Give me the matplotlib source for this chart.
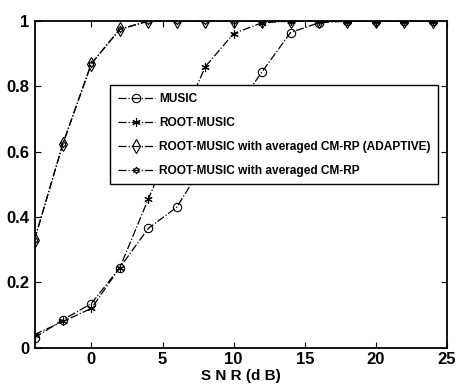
import matplotlib
matplotlib.use('Agg')
import matplotlib.pyplot as plt

snr = [-4, -2, 0, 2, 4, 6, 8, 10, 12, 14, 16, 18, 20, 22, 24]
music = [0.03, 0.085, 0.135, 0.245, 0.365, 0.43, 0.57, 0.72, 0.845, 0.965, 0.995, 1, 1, 1, 1]
root_music = [0.04, 0.08, 0.12, 0.245, 0.455, 0.66, 0.86, 0.962, 0.995, 1, 1, 1, 1, 1, 1]
rp_adaptive = [0.33, 0.625, 0.87, 0.975, 1, 1, 1, 1, 1, 1, 1, 1, 1, 1, 1]
rp_avg = [0.33, 0.625, 0.87, 0.975, 1, 1, 1, 1, 1, 1, 1, 1, 1, 1, 1]

labels = ['MUSIC', 'ROOT-MUSIC',
          'ROOT-MUSIC with averaged CM-RP (ADAPTIVE)',
          'ROOT-MUSIC with averaged CM-RP']

plt.rcParams['font.family'] = ['Liberation Sans', 'DejaVu Sans']
plt.rcParams['font.weight'] = 'bold'

fig = plt.figure(figsize=(4.57, 3.91), dpi=100)
ax = fig.add_axes([0.0755, 0.111, 0.9026, 0.835])

lw = 0.9
ax.plot(snr, music, '-.', color='k', lw=lw, marker='o', ms=6,
        mfc='none', mec='k', mew=0.8, label=labels[0])
ax.plot(snr, root_music, '-.', color='k', lw=lw, marker=(6, 2, 0), ms=6,
        mec='k', mew=0.8, label=labels[1])
ax.plot(snr, rp_adaptive, '-.', color='k', lw=lw, marker='d', ms=7,
        mfc='none', mec='k', mew=0.8, label=labels[2])
ax.plot(snr, rp_avg, '-.', color='k', lw=lw, marker=(6, 1, 0), ms=5,
        mfc='none', mec='k', mew=0.8, label=labels[3])

ax.set_xlim(-4, 25)
ax.set_ylim(0, 1)
ax.set_xticks([0, 5, 10, 15, 20, 25])
ax.set_yticks([0, 0.2, 0.4, 0.6, 0.8, 1])
ax.set_yticklabels(['0', '0.2', '0.4', '0.6', '0.8', '1'])
ax.tick_params(direction='in', top=True, right=True, labelsize=12, length=4, width=0.8)
for lab in ax.get_xticklabels() + ax.get_yticklabels():
    lab.set_fontweight('bold')
for sp in ax.spines.values():
    sp.set_linewidth(1.3)

ax.set_xlabel('S N R (d B)', fontsize=11, fontweight='bold', labelpad=1)

leg = ax.legend(loc='upper left', bbox_to_anchor=(0.183, 0.804), borderaxespad=0,
                fontsize=8.6, frameon=True, fancybox=False, edgecolor='k', framealpha=1,
                handlelength=3.1, handletextpad=0.35, borderpad=0.65, labelspacing=1.0)
leg.get_frame().set_linewidth(1.0)
for t in leg.get_texts():
    t.set_fontweight('bold')

fig.savefig('out.png', dpi=100)
